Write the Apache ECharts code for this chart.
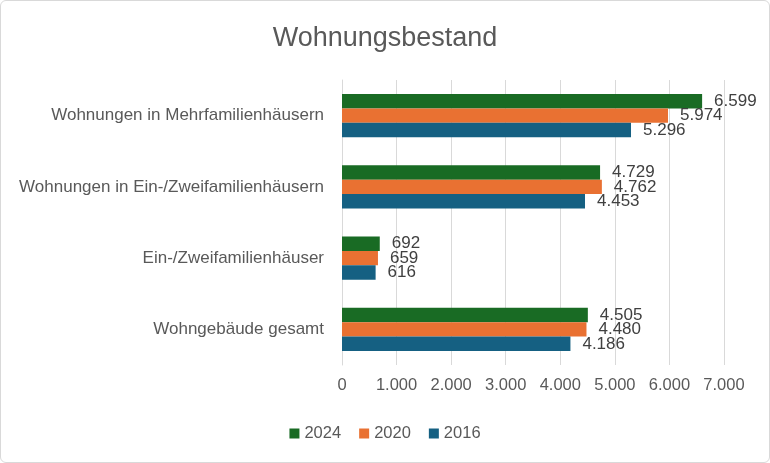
<!DOCTYPE html>
<html><head><meta charset="utf-8">
<script src="https://cdn.jsdelivr.net/npm/echarts@6/dist/echarts.min.js"></script>
<style>html,body{margin:0;padding:0;background:#fff}#c{width:768px;height:461px;border:1px solid #d9d9d9;border-radius:6px;overflow:hidden}</style>
</head><body><div id="c"></div>
<script>
const categories = ["Wohnungen in Mehrfamilienhäusern","Wohnungen in Ein-/Zweifamilienhäusern","Ein-/Zweifamilienhäuser","Wohngebäude gesamt"];
const years = ["2024","2020","2016"];
const v2024 = [6599, 4729, 692, 4505];
const v2020 = [5974, 4762, 659, 4480];
const v2016 = [5296, 4453, 616, 4186];
const colors = ["#196B24","#E97132","#156082"];
const fmt = n => String(n).replace(/\B(?=(\d{3})+(?!\d))/g, ".");
const font = "Liberation Sans";
const chart = echarts.init(document.getElementById('c'));
const mk = (name, data, color) => ({
  name, type:'bar', data, barGap:'0%', barCategoryGap:'39%',
  itemStyle:{color},
  label:{show:true, position:'right', distance:12, color:'#404040', fontSize:17, fontFamily:font, formatter:p=>fmt(p.value)}
});
chart.setOption({
  animation:false,
  title:{text:'Wohnungsbestand', left:'center', top:19, textStyle:{color:'#595959', fontSize:27, fontWeight:'normal', fontFamily:font}},
  legend:{bottom:15, left:'center', itemWidth:10, itemHeight:10, itemGap:18, icon:'rect', textStyle:{color:'#595959', fontSize:16.5, fontFamily:font}, data:years},
  grid:{left:341, right:45, top:79, bottom:97},
  xAxis:{type:'value', min:0, max:7000, interval:1000,
    axisLabel:{color:'#595959', fontSize:16.5, fontFamily:font, margin:12, formatter:v=>fmt(v)},
    splitLine:{lineStyle:{color:'#d9d9d9', width:1}}, axisLine:{show:false}, axisTick:{show:false}},
  yAxis:{type:'category', data:categories, inverse:true,
    axisLabel:{color:'#595959', fontSize:17, fontFamily:font, margin:18},
    axisLine:{show:true, lineStyle:{color:'#d9d9d9'}}, axisTick:{show:false}},
  series:[mk(years[0], v2024, colors[0]), mk(years[1], v2020, colors[1]), mk(years[2], v2016, colors[2])]
});
</script></body></html>
